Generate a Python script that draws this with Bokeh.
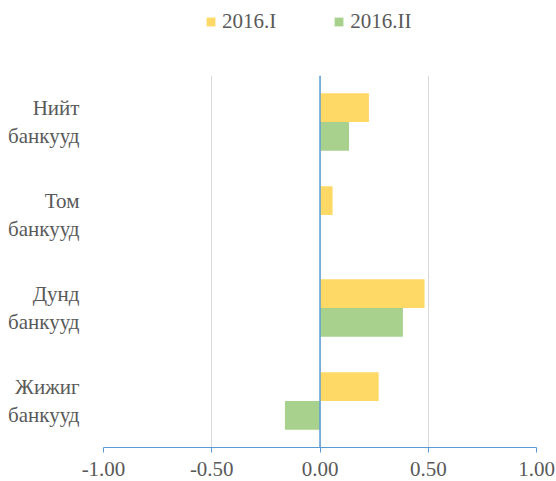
from bokeh.plotting import figure
from bokeh.layouts import column
from bokeh.models import (FactorRange, Span, FixedTicker, NumeralTickFormatter,
                          Legend, LegendItem, ColumnDataSource)
from bokeh.transform import dodge
from bokeh.embed import file_html
from bokeh.resources import INLINE

categories = ["Нийт\nбанкууд", "Том\nбанкууд", "Дунд\nбанкууд", "Жижиг\nбанкууд"]
series_names = ["2016.I", "2016.II"]
values_2016_I = [0.226, 0.058, 0.483, 0.271]
values_2016_II = [0.134, 0.0, 0.383, -0.162]
x_ticks = [-1.0, -0.5, 0.0, 0.5, 1.0]

FONT = "Liberation Serif"
TXT = "#595959"
BLUE = "#5B9BD5"
COLORS = ["#FFD966", "#A9D18E"]

src = ColumnDataSource(dict(cat=categories, a=values_2016_I, b=values_2016_II))

# ---- legend strip (separate small figure so nothing is clipped) ----
lp = figure(width=556, height=40, x_axis_type=None, y_axis_type=None,
            output_backend="svg", toolbar_location=None,
            min_border=0, x_range=(0, 1), y_range=(0, 1))
lp.outline_line_color = None
lp.grid.visible = False
# legend-key glyphs only (kept outside the visible range of this strip)
dummy = [lp.hbar(y=[5], left=[0], right=[0], height=0.1, fill_color=c, line_color=None)
         for c in COLORS]
legend = Legend(items=[LegendItem(label=n, renderers=[r]) for n, r in zip(series_names, dummy)],
                orientation="horizontal", location=(102, 6),
                glyph_width=11, glyph_height=11, label_standoff=6, spacing=57,
                padding=0, margin=0, border_line_color=None, background_fill_alpha=0,
                label_text_font=FONT, label_text_font_size="21px", label_text_color=TXT)
lp.add_layout(legend)

# ---- main chart ----
p = figure(width=556, height=441,
           y_range=FactorRange(*reversed(categories)),
           x_range=(-1, 1),
           output_backend="svg", toolbar_location=None,
           min_border_left=103, min_border_right=20,
           min_border_top=35, min_border_bottom=34)
p.outline_line_color = None

p.hbar(y=dodge("cat", 0.155, range=p.y_range), left=0, right="a", height=0.31,
       source=src, fill_color=COLORS[0], line_color=None)
p.hbar(y=dodge("cat", -0.155, range=p.y_range), left=0, right="b", height=0.31,
       source=src, fill_color=COLORS[1], line_color=None)

p.add_layout(Span(location=0, dimension="height", line_color=BLUE, line_width=1.5))

p.xaxis.ticker = FixedTicker(ticks=x_ticks)
p.xaxis.formatter = NumeralTickFormatter(format="0.00")
p.xaxis.axis_line_color = BLUE
p.xaxis.major_tick_line_color = BLUE
p.xaxis.major_tick_in = 0
p.xaxis.major_tick_out = 5
p.xaxis.minor_tick_line_color = None
p.xaxis.major_label_standoff = 9
p.xaxis.major_label_text_font = "Times"

# centre the first (shorter) line of each two-line label over the second one
pads = ["\u2002\u2006", "\u2002\u2009\u2006", "\u2002\u2006", "\u2009"]
p.yaxis.major_label_overrides = {
    c: c.split("\n")[0] + pad + "\n" + c.split("\n")[1] for c, pad in zip(categories, pads)
}
p.yaxis.axis_line_color = None
p.yaxis.major_tick_line_color = None
p.yaxis.major_label_standoff = 18
p.yaxis.major_label_text_font = "serif"

for ax in (p.xaxis, p.yaxis):
    ax.major_label_text_font_size = "21px"
    ax.major_label_text_color = TXT

p.ygrid.grid_line_color = None
p.xgrid.grid_line_color = "#D9D9D9"
p.xgrid.ticker = FixedTicker(ticks=x_ticks)

open("out.html", "w").write(file_html(column(lp, p), INLINE))
